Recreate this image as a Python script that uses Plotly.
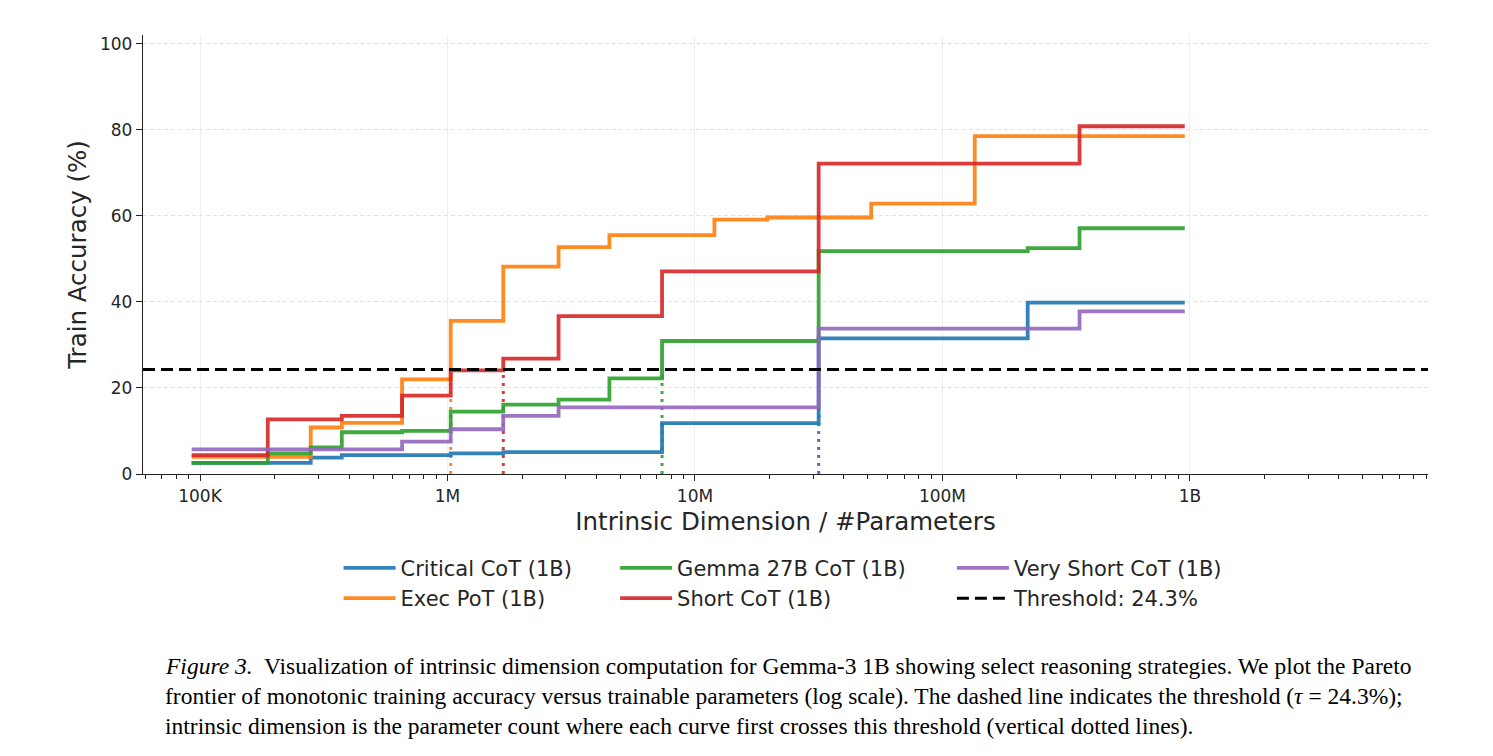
import plotly.graph_objects as go

# ---------------- data ----------------
THRESHOLD = 24.3

crit_x = [92.5e3, 280e3, 374e3, 1.03e6, 1.68e6, 7.36e6, 31.6e6, 221e6, 953e6]
crit_y = [2.6, 3.8, 4.4, 4.8, 5.1, 11.8, 31.5, 39.8, 39.8]

exec_x = [92.5e3, 280e3, 374e3, 655e3, 1.03e6, 1.68e6, 2.81e6, 4.51e6, 11.98e6, 19.6e6, 51.5e6, 135e6, 953e6]
exec_y = [4.0, 10.8, 11.9, 22.0, 35.6, 48.2, 52.7, 55.5, 59.1, 59.6, 62.8, 78.5, 78.5]

gemma_x = [92.5e3, 187.8e3, 280e3, 374e3, 655e3, 1.03e6, 1.68e6, 2.81e6, 4.51e6, 7.36e6, 31.6e6, 221e6, 358e6, 953e6]
gemma_y = [2.6, 4.8, 6.2, 9.7, 10.0, 14.5, 16.1, 17.3, 22.2, 30.9, 51.8, 52.5, 57.1, 57.1]

short_x = [92.5e3, 187.8e3, 374e3, 655e3, 1.03e6, 1.68e6, 2.81e6, 7.36e6, 31.6e6, 358e6, 953e6]
short_y = [4.4, 12.7, 13.5, 18.2, 24.1, 26.8, 36.7, 47.1, 72.1, 80.8, 80.8]

vshort_x = [92.5e3, 655e3, 1.03e6, 1.68e6, 2.81e6, 31.6e6, 358e6, 953e6]
vshort_y = [5.7, 7.5, 10.4, 13.5, 15.5, 33.8, 37.8, 37.8]

series_names = ["Critical CoT (1B)", "Exec PoT (1B)", "Gemma 27B CoT (1B)",
                "Short CoT (1B)", "Very Short CoT (1B)"]
series_x = [crit_x, exec_x, gemma_x, short_x, vshort_x]
series_y = [crit_y, exec_y, gemma_y, short_y, vshort_y]
series_colors = ["#1f77b4", "#ff7f0e", "#2ca02c", "#d62728", "#9467bd"]
series_legend = ["legend", "legend", "legend2", "legend2", "legend3"]

x_tickvals = [1e5, 1e6, 1e7, 1e8, 1e9]
x_ticktext = ["100K", "1M", "10M", "100M", "1B"]
x_minor = [m * 10 ** e for e in range(4, 10) for m in range(2, 10)]
y_tickvals = [0, 20, 40, 60, 80, 100]

X_RANGE = [4.7695, 9.962]
Y_RANGE = [0, 102]

caption_lines = [
    "<i>Figure 3.</i>  Visualization of intrinsic dimension computation for Gemma-3 1B showing select reasoning strategies. We plot the Pareto",
    "frontier of monotonic training accuracy versus trainable parameters (log scale). The dashed line indicates the threshold (<i>τ</i> = 24.3%);",
    "intrinsic dimension is the parameter count where each curve first crosses this threshold (vertical dotted lines).",
]

# ---------------- figure ----------------
fig = go.Figure()

# vertical dotted lines at first threshold crossing
for xs, ys, col in zip(series_x, series_y, series_colors):
    xc = next(x for x, y in zip(xs, ys) if y >= THRESHOLD)
    fig.add_trace(go.Scatter(
        x=[xc, xc], y=[0, THRESHOLD], mode="lines",
        line=dict(color=col, width=3, dash="3px,5px"),
        opacity=0.9, showlegend=False, hoverinfo="skip"))

for i, (name, xs, ys, col, lg) in enumerate(zip(series_names, series_x, series_y,
                                                 series_colors, series_legend)):
    fig.add_trace(go.Scatter(
        x=xs, y=ys, mode="lines", name=name, line_shape="hv",
        line=dict(color=col, width=3.8), opacity=0.9,
        legend=lg, legendgroup=f"g{i}"))

fig.add_shape(type="line", xref="x domain", x0=0, x1=1, yref="y",
              y0=THRESHOLD, y1=THRESHOLD,
              line=dict(color="black", width=3, dash="12px,6px"),
              showlegend=True, name=f"Threshold: {THRESHOLD}%",
              legend="legend3", legendgroup="g5", layer="above")

axis_col = "#222222"
fig.update_xaxes(
    type="log", range=X_RANGE,
    tickmode="array", tickvals=x_tickvals, ticktext=x_ticktext,
    ticks="outside", ticklen=6, tickwidth=1.2, tickcolor=axis_col,
    tickfont=dict(size=17, color="#262626"),
    showline=True, linecolor=axis_col, linewidth=1.3,
    showgrid=True, gridcolor="#efefef", gridwidth=1,
    zeroline=False,
    minor=dict(tickmode="array", tickvals=x_minor, ticks="outside",
               ticklen=3.5, tickwidth=1, tickcolor=axis_col, showgrid=False),
    title=dict(text="Intrinsic Dimension / #Parameters",
               font=dict(size=24.5, color="#262626"), standoff=8),
)
fig.update_yaxes(
    range=Y_RANGE, tickmode="array", tickvals=y_tickvals,
    ticks="outside", ticklen=6, tickwidth=1.2, tickcolor=axis_col,
    tickfont=dict(size=17, color="#262626"),
    showline=True, linecolor=axis_col, linewidth=1.3,
    showgrid=True, gridcolor="#e2e2e2", gridwidth=1, griddash="4px,3px",
    zeroline=False,
    title=dict(text="Train Accuracy (%)",
               font=dict(size=24.5, color="#262626"), standoff=6),
)

leg_common = dict(orientation="v", xanchor="left", yanchor="top", y=-0.168,
                  font=dict(size=21, color="#262626", family="DejaVu Sans"),
                  bgcolor="rgba(0,0,0,0)", itemwidth=52, tracegroupgap=0,
                  traceorder="grouped")
fig.update_layout(
    width=1493, height=756,
    margin=dict(l=143, r=65, t=35, b=282),
    plot_bgcolor="white", paper_bgcolor="white",
    font=dict(family="DejaVu Sans", color="#262626"),
    legend=dict(x=0.1522, **leg_common),
    legend2=dict(x=0.3674, **leg_common),
    legend3=dict(x=0.6295, **leg_common),
)

cap_y = [-0.4374, -0.5057, -0.574]
for txt, yy in zip(caption_lines, cap_y):
    fig.add_annotation(text=txt, xref="paper", yref="paper", x=0.0156, y=yy,
                       xanchor="left", yanchor="middle", showarrow=False,
                       font=dict(family="Liberation Serif", size=23.5, color="black"))

fig.write_html("out.html")
